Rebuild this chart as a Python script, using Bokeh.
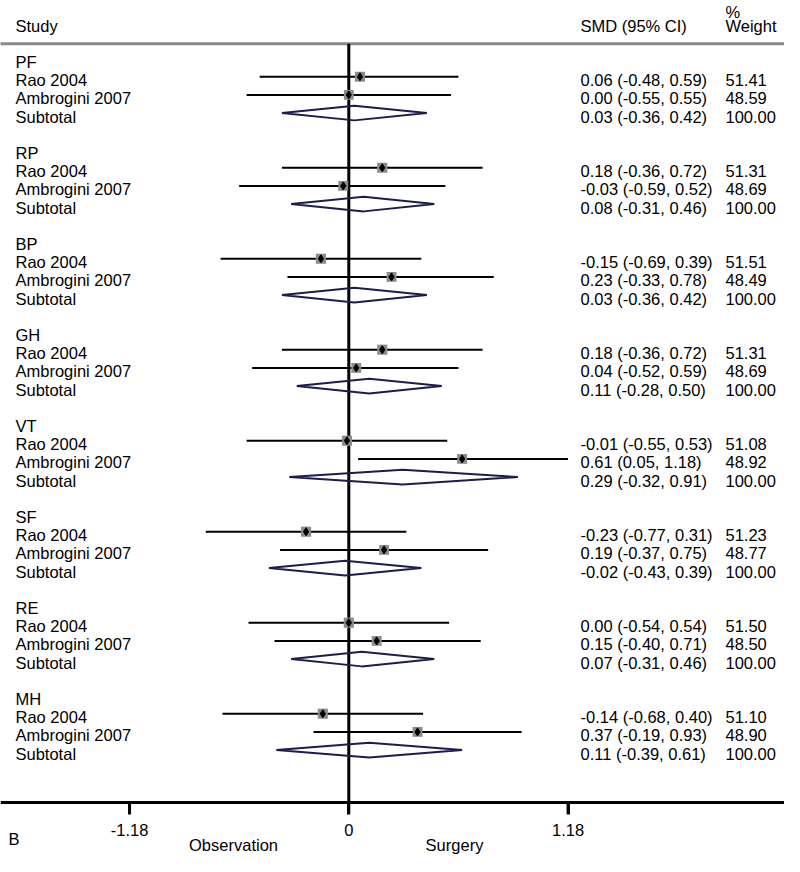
from bokeh.plotting import figure
from bokeh.models import Range1d, FixedTicker
from bokeh.embed import file_html
from bokeh.resources import INLINE
from bokeh.core.properties import value

# ---------------- data ----------------
outcomes = ["PF", "RP", "BP", "GH", "VT", "SF", "RE", "MH"]
study_names = ["Rao 2004", "Ambrogini 2007"]
subtotal_name = "Subtotal"

rao_smd = [0.06, 0.18, -0.15, 0.18, -0.01, -0.23, 0.00, -0.14]
rao_lo = [-0.48, -0.36, -0.69, -0.36, -0.55, -0.77, -0.54, -0.68]
rao_hi = [0.59, 0.72, 0.39, 0.72, 0.53, 0.31, 0.54, 0.40]
rao_wt = [51.41, 51.31, 51.51, 51.31, 51.08, 51.23, 51.50, 51.10]

amb_smd = [0.00, -0.03, 0.23, 0.04, 0.61, 0.19, 0.15, 0.37]
amb_lo = [-0.55, -0.59, -0.33, -0.52, 0.05, -0.37, -0.40, -0.19]
amb_hi = [0.55, 0.52, 0.78, 0.59, 1.18, 0.75, 0.71, 0.93]
amb_wt = [48.59, 48.69, 48.49, 48.69, 48.92, 48.77, 48.50, 48.90]

sub_smd = [0.03, 0.08, 0.03, 0.11, 0.29, -0.02, 0.07, 0.11]
sub_lo = [-0.36, -0.31, -0.36, -0.28, -0.32, -0.43, -0.31, -0.39]
sub_hi = [0.42, 0.46, 0.42, 0.50, 0.91, 0.39, 0.46, 0.61]
sub_wt = [100.00] * 8

tick_values = [-1.18, 0, 1.18]
tick_labels = ["-1.18", "0", "1.18"]
left_label = "Observation"
right_label = "Surgery"
panel_letter = "B"
headers = ["Study", "SMD (95% CI)", "Weight"]
pct_header = "%"

# ---------------- layout constants ----------------
FONT = "Liberation Sans"
FS = "16.5px"
PX_PER_UNIT = 185.8
ZERO_PX = 348.3
W, H = 784, 856
ROW_PX = 18.2
ROW0_PX = 58.0
AXIS_PX = 801.5
TICK_LEN = 12

x_start = -ZERO_PX / PX_PER_UNIT
x_end = (W - ZERO_PX) / PX_PER_UNIT
y_top = -ROW0_PX / ROW_PX
y_bot = (H - ROW0_PX) / ROW_PX


def xpix(px):
    return (px - ZERO_PX) / PX_PER_UNIT


def rowpix(py):
    return (py - ROW0_PX) / ROW_PX


# build rows
label_rows, label_text = [], []
smd_rows, smd_text, wt_text = [], [], []
ci_x0, ci_x1, ci_y, mk_x, mk_y, mk_size = [], [], [], [], [], []
dia_xs, dia_ys = [], []

for g, name in enumerate(outcomes):
    base = 5 * g
    label_rows.append(base)
    label_text.append(name)
    for k, (e, lo, hi, w) in enumerate([
        (rao_smd[g], rao_lo[g], rao_hi[g], rao_wt[g]),
        (amb_smd[g], amb_lo[g], amb_hi[g], amb_wt[g]),
    ]):
        r = base + 1 + k
        label_rows.append(r)
        label_text.append(study_names[k])
        smd_rows.append(r)
        smd_text.append(f"{e:.2f} ({lo:.2f}, {hi:.2f})")
        wt_text.append(f"{w:.2f}")
        ci_x0.append(lo)
        ci_x1.append(hi)
        ci_y.append(r)
        mk_x.append(e)
        mk_y.append(r)
        mk_size.append(10 * (w / 50) ** 0.5)
    r = base + 3
    label_rows.append(r)
    label_text.append(subtotal_name)
    smd_rows.append(r)
    smd_text.append(f"{sub_smd[g]:.2f} ({sub_lo[g]:.2f}, {sub_hi[g]:.2f})")
    wt_text.append(f"{sub_wt[g]:.2f}")
    dia_xs.append([sub_lo[g], sub_smd[g], sub_hi[g], sub_smd[g]])
    dia_ys.append([r, r - 0.4, r, r + 0.4])

p = figure(width=W, height=H, output_backend="svg", toolbar_location=None,
           x_range=Range1d(x_start, x_end), y_range=Range1d(y_bot, y_top),
           y_axis_location=None, min_border_left=0, min_border_right=0,
           min_border_top=0, min_border_bottom=0)
p.grid.visible = False
p.outline_line_color = None
p.background_fill_color = "white"
p.border_fill_color = "white"

axis_row = rowpix(AXIS_PX)
tick_end_row = rowpix(AXIS_PX + TICK_LEN)

ax = p.xaxis[0]
ax.fixed_location = axis_row
ax.ticker = FixedTicker(ticks=tick_values)
ax.major_label_overrides = {v: t for v, t in zip(tick_values, tick_labels)}
ax.axis_line_width = 3
ax.axis_line_color = "black"
ax.major_tick_line_width = 3
ax.major_tick_line_color = "black"
ax.major_tick_out = TICK_LEN
ax.major_tick_in = 0
ax.minor_tick_line_color = None
ax.major_label_standoff = 10
ax.major_label_text_font = FONT
ax.major_label_text_font_size = FS
ax.major_label_text_color = "black"
if "background_fill_color" in ax.properties():
    ax.background_fill_color = None

header_row = rowpix(25.5)
line_row = rowpix(43.3)

# header line and zero line
p.segment(x0=[x_start - 1], x1=[x_end + 1], y0=[line_row], y1=[line_row],
          line_width=3, line_color="#8a8a8a")
p.segment(x0=[0], x1=[0], y0=[line_row], y1=[axis_row],
          line_width=3, line_color="black")

# CIs and markers
p.segment(x0=ci_x0, x1=ci_x1, y0=ci_y, y1=ci_y, line_width=2, line_color="black")
p.scatter(x=mk_x, y=mk_y, marker="square", size=mk_size,
          fill_color="#8c8c8c", line_color=None)
p.scatter(x=mk_x, y=mk_y, marker="diamond", size=8,
          fill_color="black", line_color="black")

# subtotal diamonds
p.patches(xs=dia_xs, ys=dia_ys, fill_color=None, line_color="#1c1c4e", line_width=2)

# tick marks drawn on top (at the axis tick positions)
tk = p.segment(x0=tick_values, x1=tick_values, y0=[axis_row] * 3, y1=[tick_end_row] * 3,
               line_width=3, line_color="black")
tk.level = "overlay"

# texts
TO = 3.5
xs_study = xpix(15)
xs_smd = xpix(580)
xs_wt = xpix(725)

common = dict(text_font=value(FONT), text_font_size=FS, text_baseline="middle",
              text_align="left", text_color="black")
p.text(x=[xs_study] * len(label_rows), y=label_rows, text=label_text, y_offset=TO, **common)
p.text(x=[xs_smd] * len(smd_rows), y=smd_rows, text=smd_text, y_offset=TO, **common)
p.text(x=[xs_wt] * len(smd_rows), y=smd_rows, text=wt_text, y_offset=TO, **common)

# headers
p.text(x=[xs_study, xs_smd, xs_wt], y=[header_row] * 3, text=headers, **common)
p.text(x=[xs_wt], y=[rowpix(11)], text=[pct_header], **common)

# bottom labels
cen = dict(common)
cen["text_align"] = "center"
p.text(x=[xpix(233), xpix(454)], y=[rowpix(844)] * 2, text=[left_label, right_label], **cen)
p.text(x=[xpix(8)], y=[rowpix(838)], text=[panel_letter], **common)

open("out.html", "w").write(file_html(p, INLINE))
